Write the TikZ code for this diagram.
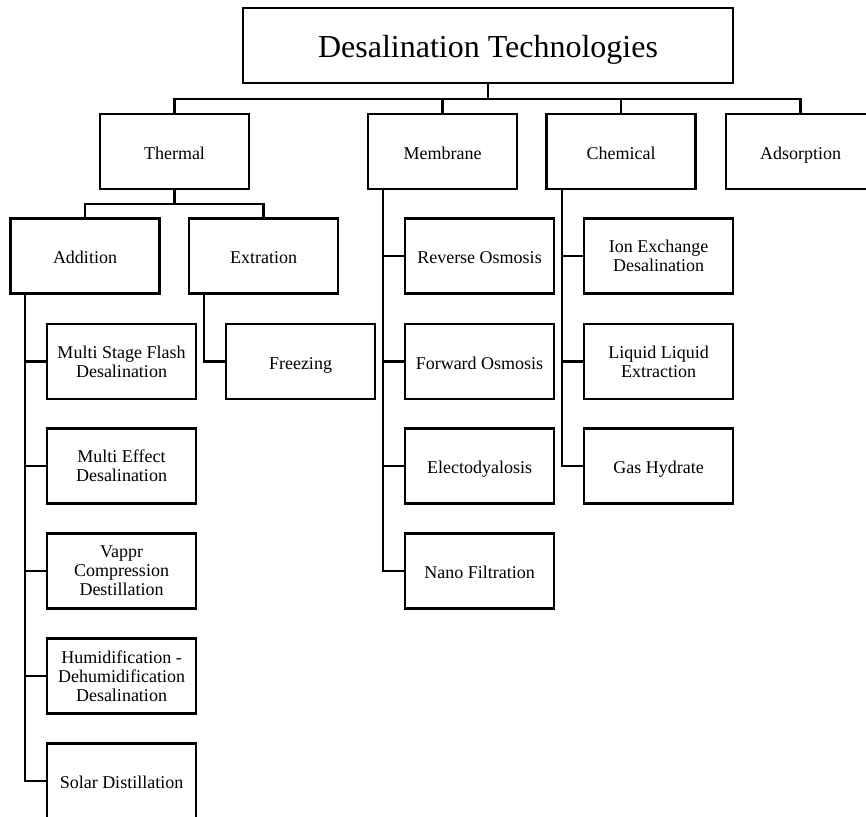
\documentclass[tikz,border=0pt]{standalone}
\usepackage{fontspec}
\setmainfont{Liberation Serif}
\begin{document}
\begin{tikzpicture}[x=1pt,y=-1pt,
  box/.style={draw,line width=2.8pt,minimum width=149pt,minimum height=75pt,inner sep=2pt,align=center,font=\fontsize{18}{19}\selectfont},
  one/.style={text height=15pt,text depth=0pt},
  conn/.style={line width=2.8pt,line cap=rect}]
\useasboundingbox (0,0) rectangle (866,816);
\clip (0,0) rectangle (866,816);
% top
\node[box,minimum width=490pt,font=\fontsize{32}{34}\selectfont,text height=23pt,text depth=0pt] (top) at (488,45.5) {Desalination Technologies};
% level 1
\node[box,one] (thermal) at (174.5,151.5) {Thermal};
\node[box,one] (membrane) at (442.5,151.5) {Membrane};
\node[box,one] (chemical) at (621,151.5) {Chemical};
\node[box,one] (adsorption) at (800.5,151.5) {Adsorption};
% thermal children
\node[box,one] (addition) at (85,256) {Addition};
\node[box,one] (extration) at (263.5,256) {Extration};
\node[box] (msf) at (121.5,361.5) {Multi Stage Flash\\Desalination};
\node[box] (mee) at (121.5,466) {Multi Effect\\Desalination};
\node[box] (vc) at (121.5,571) {Vappr\\Compression\\Destillation};
\node[box] (hdh) at (121.5,676) {Humidification -\\Dehumidification\\Desalination};
\node[box,one] (solar) at (121.5,781) {Solar Distillation};
\node[box,one] (freezing) at (300.5,361.5) {Freezing};
% membrane children
\node[box,one] (ro) at (479.5,256) {Reverse Osmosis};
\node[box,one] (fo) at (479.5,361.5) {Forward Osmosis};
\node[box,one] (ed) at (479.5,466) {Electodyalosis};
\node[box,one] (nf) at (479.5,571) {Nano Filtration};
% chemical children
\node[box] (ix) at (658.5,256) {Ion Exchange\\Desalination};
\node[box] (lle) at (658.5,361.5) {Liquid Liquid\\Extraction};
\node[box,one] (gh) at (658.5,466) {Gas Hydrate};
% connectors
\coordinate (busy) at (0,99);
\draw[conn] (top.south) -- (top.south |- busy);
\draw[conn] (thermal.north) -- (thermal.north |- busy) -- (adsorption.north |- busy) -- (adsorption.north);
\draw[conn] (membrane.north) -- (membrane.north |- busy);
\draw[conn] (chemical.north) -- (chemical.north |- busy);
\coordinate (tbus) at (0,204);
\draw[conn] (thermal.south) -- (thermal.south |- tbus);
\draw[conn] (addition.north) -- (addition.north |- tbus) -- (extration.north |- tbus) -- (extration.north);
% addition branch
\coordinate (ax) at (25,0);
\draw[conn] (ax |- addition.south) -- (ax |- solar.west) -- (solar.west);
\foreach \n in {msf,mee,vc,hdh} \draw[conn] (ax |- \n.west) -- (\n.west);
% extration branch
\coordinate (ex) at (204,0);
\draw[conn] (ex |- extration.south) -- (ex |- freezing.west) -- (freezing.west);
% membrane branch
\coordinate (mx) at (383,0);
\draw[conn] (mx |- membrane.south) -- (mx |- nf.west) -- (nf.west);
\foreach \n in {ro,fo,ed} \draw[conn] (mx |- \n.west) -- (\n.west);
% chemical branch
\coordinate (cx) at (562,0);
\draw[conn] (cx |- chemical.south) -- (cx |- gh.west) -- (gh.west);
\foreach \n in {ix,lle} \draw[conn] (cx |- \n.west) -- (\n.west);
\end{tikzpicture}
\end{document}
